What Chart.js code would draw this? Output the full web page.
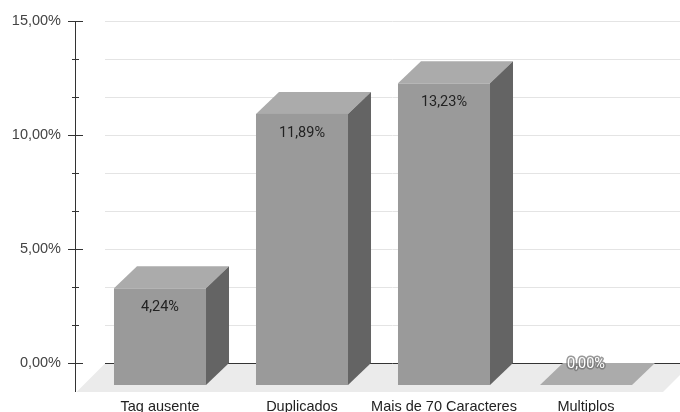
<!DOCTYPE html>
<html>
<head>
<meta charset="utf-8">
<script src="https://cdn.jsdelivr.net/npm/chart.js@4/dist/chart.umd.min.js"></script>
<style>
  html, body { margin: 0; padding: 0; background: #fff; }
  #wrap { width: 680px; height: 412px; position: relative; }
</style>
</head>
<body>
<div id="wrap"><canvas id="chart"></canvas></div>
<script>
const categories = ['Tag ausente', 'Duplicados', 'Mais de 70 Caracteres', 'Multiplos'];
const percentages = [4.24, 11.89, 13.23, 0.00];
const yTicks = [0, 5 / 3, 10 / 3, 5, 20 / 3, 25 / 3, 10, 35 / 3, 40 / 3, 15];
const yLabeledTicks = [0, 5, 10, 15];

// depth of the fake 3d extrusion
const DEPTH_X = 23;
const DEPTH_Y = 22;
const FLOOR_DEPTH = 29;

const axisFont = { family: 'Arial, "Liberation Sans", sans-serif', size: 14.5 };
const valueFont = '14.5px Roboto, "Noto Sans", sans-serif';

const pct = v => v.toFixed(2).replace('.', ',') + '%';

function poly(ctx, pts, color) {
  ctx.beginPath();
  ctx.moveTo(pts[0][0], pts[0][1]);
  for (let i = 1; i < pts.length; i++) ctx.lineTo(pts[i][0], pts[i][1]);
  ctx.closePath();
  ctx.fillStyle = color;
  ctx.fill();
}

const bars3d = {
  id: 'bars3d',
  beforeDatasetsDraw(chart) {
    const { ctx, chartArea: area, scales: { y } } = chart;
    const base = y.getPixelForValue(0);
    const axisX = area.left - 13.5;
    const wallLeft = axisX + FLOOR_DEPTH + 0.5;
    const right = chart.width;

    ctx.save();
    // horizontal grid on the back wall
    ctx.strokeStyle = '#e4e4e4';
    ctx.lineWidth = 1;
    y.ticks.forEach(t => {
      if (t.value === 0) return;
      const py = Math.round(y.getPixelForValue(t.value)) + 0.5;
      ctx.beginPath();
      ctx.moveTo(wallLeft, py);
      ctx.lineTo(right, py);
      ctx.stroke();
    });

    // floor
    poly(ctx, [
      [axisX + 1, base + FLOOR_DEPTH],
      [axisX + 1 + FLOOR_DEPTH, base],
      [right + 40, base],
      [area.right + 6 + FLOOR_DEPTH, base],
      [area.right + 6, base + FLOOR_DEPTH]
    ], '#ebebeb');

    // baseline on the wall
    ctx.strokeStyle = '#333';
    ctx.beginPath();
    ctx.moveTo(wallLeft, Math.round(base) + 0.5);
    ctx.lineTo(right, Math.round(base) + 0.5);
    ctx.stroke();

    // vertical axis with major and minor ticks
    ctx.beginPath();
    ctx.moveTo(axisX, y.getPixelForValue(15));
    ctx.lineTo(axisX, base + FLOOR_DEPTH);
    y.ticks.forEach(t => {
      const py = Math.round(y.getPixelForValue(t.value)) + 0.5;
      const half = yLabeledTicks.includes(t.value) ? 7.5 : 3.5;
      ctx.moveTo(axisX - half, py);
      ctx.lineTo(axisX + half, py);
    });
    ctx.stroke();
    ctx.restore();
  },
  afterDatasetsDraw(chart) {
    const { ctx } = chart;
    const meta = chart.getDatasetMeta(0);
    ctx.save();
    meta.data.forEach((el, i) => {
      const { x, y: top, base, width } = el.getProps(['x', 'y', 'base', 'width'], true);
      const l = x - width / 2;
      const r = x + width / 2;
      const h = base - top;

      // top face
      poly(ctx, [
        [l, top + DEPTH_Y], [r, top + DEPTH_Y],
        [r + DEPTH_X, top], [l + DEPTH_X, top]
      ], '#ababab');

      if (h > 0.5) {
        // side face
        poly(ctx, [
          [r, top + DEPTH_Y], [r + DEPTH_X, top],
          [r + DEPTH_X, base], [r, base + DEPTH_Y]
        ], '#646464');
        // front face
        ctx.fillStyle = '#9a9a9a';
        ctx.fillRect(l, top + DEPTH_Y, width, h);
      }

      const label = pct(percentages[i]);
      ctx.font = valueFont;
      ctx.textAlign = 'center';
      ctx.textBaseline = 'middle';
      if (h > 24) {
        ctx.fillStyle = '#222';
        ctx.fillText(label, x, top + DEPTH_Y + 19);
      } else {
        ctx.lineJoin = 'round';
        ctx.lineWidth = 3;
        ctx.strokeStyle = 'rgba(110,110,110,0.7)';
        ctx.strokeText(label, x, top + 1);
        ctx.fillStyle = '#fff';
        ctx.fillText(label, x, top + 1);
      }
    });
    ctx.restore();
  }
};

new Chart(document.getElementById('chart'), {
  type: 'bar',
  data: {
    labels: categories,
    datasets: [{
      data: percentages,
      backgroundColor: 'rgba(0,0,0,0)',
      borderWidth: 0,
      barPercentage: 0.648,
      categoryPercentage: 1
    }]
  },
  options: {
    responsive: true,
    maintainAspectRatio: false,
    animation: false,
    layout: { padding: { top: 21, right: 23, bottom: 0, left: 0 } },
    plugins: {
      legend: { display: false },
      tooltip: { enabled: false }
    },
    scales: {
      x: {
        grid: { display: false, drawTicks: false },
        border: { display: false },
        ticks: {
          color: '#222',
          font: axisFont,
          padding: 35,
          maxRotation: 0,
          autoSkip: false
        },
        afterFit(scale) { scale.height = 49; }
      },
      y: {
        min: 0,
        max: 15,
        grid: { display: false, drawTicks: false },
        border: { display: false },
        afterBuildTicks(scale) {
          scale.ticks = yTicks.map(v => ({ value: v }));
        },
        ticks: {
          color: '#444',
          font: axisFont,
          padding: 28,
          callback: v => (yLabeledTicks.includes(v) ? pct(v) : '')
        },
        afterFit(scale) {
          scale.width = 89;
          // tick padding would otherwise push the plot area down
          scale.paddingTop = 0;
          scale.paddingBottom = 0;
        }
      }
    }
  },
  plugins: [bars3d]
});
</script>
</body>
</html>
